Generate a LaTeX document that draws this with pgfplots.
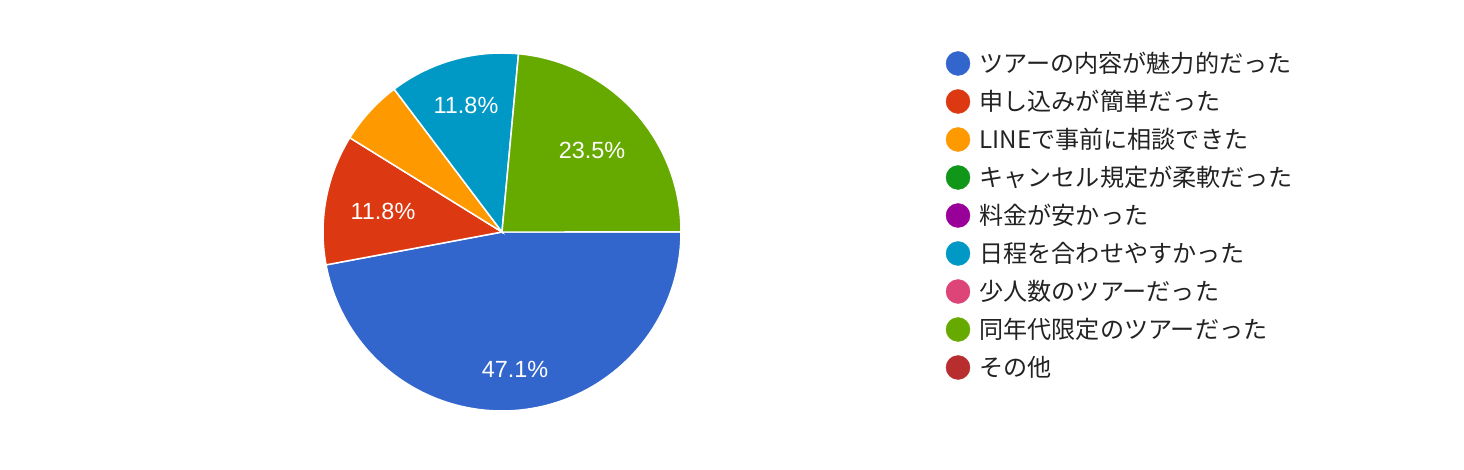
\documentclass[border=0pt]{standalone}
\usepackage{pgfplots}
\pgfplotsset{compat=1.18}
\usepackage{fontspec}
\setmainfont{Liberation Sans}
\newfontfamily\jp{Noto Sans CJK JP}

\definecolor{c1}{HTML}{3366CC}
\definecolor{c2}{HTML}{DC3912}
\definecolor{c3}{HTML}{FF9900}
\definecolor{c4}{HTML}{109618}
\definecolor{c5}{HTML}{990099}
\definecolor{c6}{HTML}{0099C6}
\definecolor{c7}{HTML}{DD4477}
\definecolor{c8}{HTML}{66AA00}
\definecolor{c9}{HTML}{B82E2E}
\definecolor{txt}{HTML}{222222}

\tikzset{
  pct/.style={text=white, font=\fontsize{23.5}{28}\selectfont},
  lab/.style={anchor=west, text=txt, font=\jp\fontsize{24.2}{28}\selectfont},
}
\pgfplotsset{
  wedge/.style={draw=white, line width=1.5pt, samples=100, variable=\t},
  key/.style={only marks, mark=*, mark size=12bp, mark options={draw=#1, fill=#1}},
}

% counts (17 answers): 8, 2, 1, 0, 0, 2, 0, 4, 0
\begin{document}
\begin{tikzpicture}
\begin{axis}[
  width=1464bp, height=470bp, scale only axis,
  xmin=0, xmax=1464, ymin=0, ymax=470, y dir=reverse,
  hide axis, clip=false,
]
  \path (rel axis cs:0,0) rectangle (rel axis cs:1,1);
  % pie slices, clockwise from 3 o'clock; domain in cumulative counts of 17
  \addplot[wedge, fill=c1, domain=0:8]   ({502+179*cos(360*\t/17)}, {232+179*sin(360*\t/17)}) -- (axis cs:502,232) -- cycle;
  \addplot[wedge, fill=c2, domain=8:10]  ({502+179*cos(360*\t/17)}, {232+179*sin(360*\t/17)}) -- (axis cs:502,232) -- cycle;
  \addplot[wedge, fill=c3, domain=10:11] ({502+179*cos(360*\t/17)}, {232+179*sin(360*\t/17)}) -- (axis cs:502,232) -- cycle;
  \addplot[wedge, fill=c6, domain=11:13] ({502+179*cos(360*\t/17)}, {232+179*sin(360*\t/17)}) -- (axis cs:502,232) -- cycle;
  \addplot[wedge, fill=c8, domain=13:17] ({502+179*cos(360*\t/17)}, {232+179*sin(360*\t/17)}) -- (axis cs:502,232) -- cycle;

  \node[pct] at (axis cs:515,369) {47.1\%};
  \node[pct] at (axis cs:383,211) {11.8\%};
  \node[pct] at (axis cs:466,105) {11.8\%};
  \node[pct] at (axis cs:592,150) {23.5\%};

  % legend
  \addplot[key=c1] coordinates {(958,63.5)};
  \addplot[key=c2] coordinates {(958,101.5)};
  \addplot[key=c3] coordinates {(958,139.5)};
  \addplot[key=c4] coordinates {(958,177.5)};
  \addplot[key=c5] coordinates {(958,215.5)};
  \addplot[key=c6] coordinates {(958,253.5)};
  \addplot[key=c7] coordinates {(958,291.5)};
  \addplot[key=c8] coordinates {(958,329.5)};
  \addplot[key=c9] coordinates {(958,367.5)};

  \node[lab] at (axis cs:976,63.5)  {ツアーの内容が魅力的だった};
  \node[lab] at (axis cs:976,101.5) {申し込みが簡単だった};
  \node[lab] at (axis cs:976,139.5) {LINEで事前に相談できた};
  \node[lab] at (axis cs:976,177.5) {キャンセル規定が柔軟だった};
  \node[lab] at (axis cs:976,215.5) {料金が安かった};
  \node[lab] at (axis cs:976,253.5) {日程を合わせやすかった};
  \node[lab] at (axis cs:976,291.5) {少人数のツアーだった};
  \node[lab] at (axis cs:976,329.5) {同年代限定のツアーだった};
  \node[lab] at (axis cs:976,367.5) {その他};
\end{axis}
\end{tikzpicture}
\end{document}
